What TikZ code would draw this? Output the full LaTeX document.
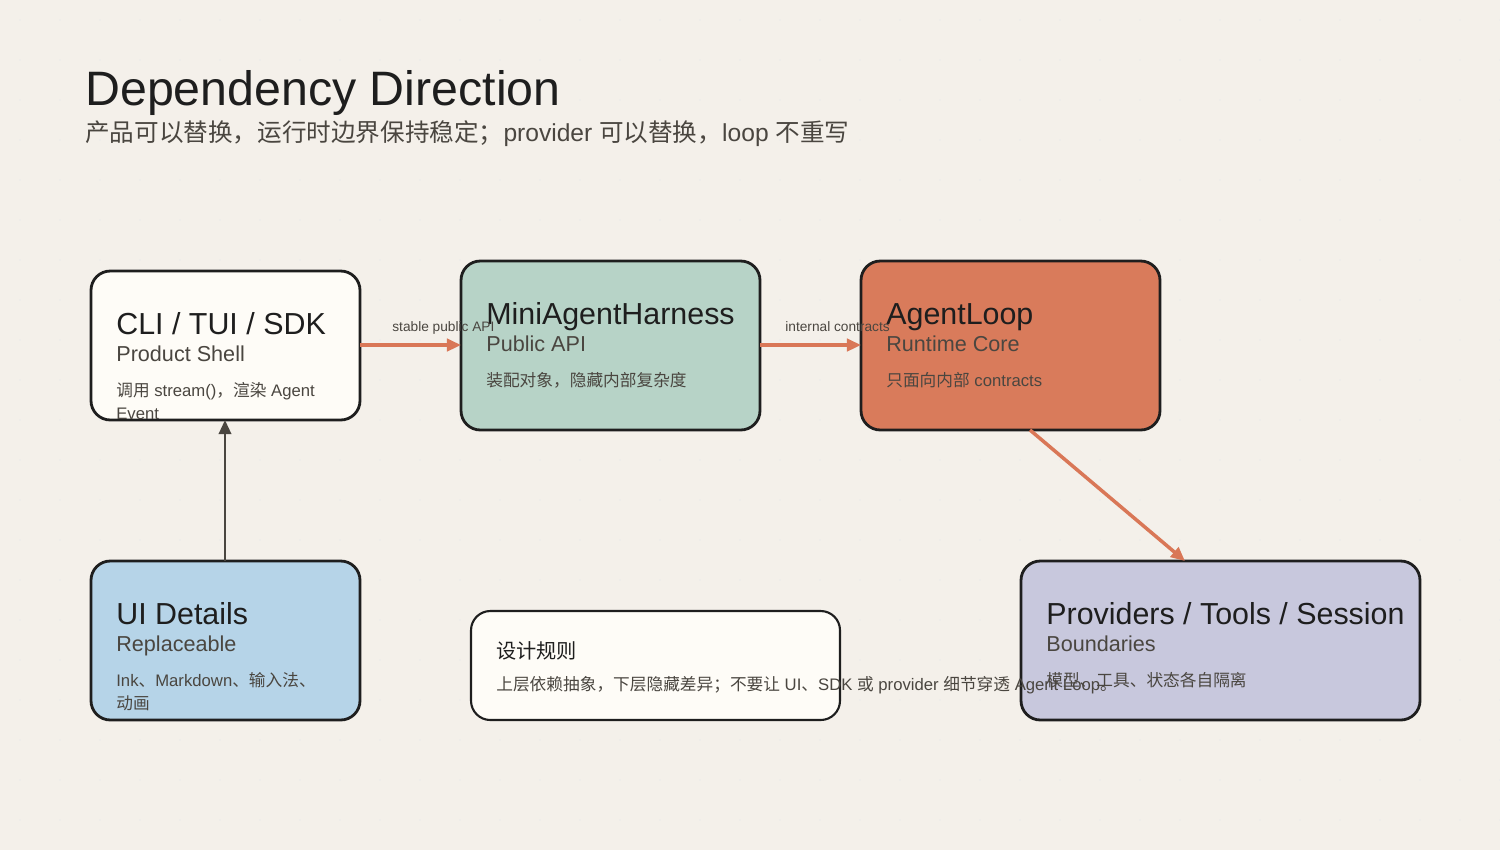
\documentclass[tikz,border=0pt]{standalone}
\usepackage{fontspec}
\setmainfont{Liberation Sans}
\newfontfamily\cjk{Noto Sans CJK SC}
\usetikzlibrary{arrows.meta}
\definecolor{bg}{HTML}{F4F0EA}
\definecolor{wbox}{HTML}{FEFCF7}
\definecolor{gbox}{HTML}{B7D3C7}
\definecolor{obox}{HTML}{D97B5B}
\definecolor{bbox}{HTML}{B6D4E8}
\definecolor{lbox}{HTML}{C8C8DD}
\definecolor{ink}{HTML}{1E1E1E}
\definecolor{sub}{HTML}{4A4640}
\definecolor{arr}{HTML}{D97757}
\newcommand{\cj}[1]{{\cjk #1}}
\tikzset{
 box/.style={draw=ink,line width=1.6pt,rounded corners=11pt},
 ttl/.style={anchor=base west,inner sep=0,font=\fontsize{17.3}{20}\selectfont,text=ink},
 stl/.style={anchor=base west,inner sep=0,font=\fontsize{12.3}{14}\selectfont,text=sub},
 sml/.style={anchor=base west,inner sep=0,font=\fontsize{9.5}{13}\selectfont,text=sub},
 elab/.style={anchor=base west,inner sep=0,font=\fontsize{7.8}{9}\selectfont,text=sub},
 oarr/.style={draw=arr,line width=2pt,-{Triangle[length=8pt,width=7pt]}},
 garr/.style={draw=sub,line width=1.5pt,-{Triangle[length=8pt,width=7pt]}},
}
\begin{document}
\begin{tikzpicture}[x=0.02cm,y=-0.02cm]
\fill[bg] (0,0) rectangle (1500,850);
\useasboundingbox (0,0) rectangle (1500,850);
\foreach \i in {0,...,37}{\foreach \j in {0,...,21}{
 \fill[black!8] (20+40*\i,20+40*\j) circle (0.5pt);}}
\node[anchor=base west,inner sep=0,font=\fontsize{27.5}{30}\selectfont,text=ink] (title) at (85,105) {Dependency Direction};
\node[anchor=base west,inner sep=0,font=\fontsize{14}{16}\selectfont,text=sub] (subt) at (85,141) {\cj{产品可以替换，运行时边界保持稳定；}provider \cj{可以替换，}loop \cj{不重写}};
% boxes
\draw[box,fill=wbox] (91,271) rectangle (360,420);
\draw[box,fill=gbox] (461,261) rectangle (760,430);
\draw[box,fill=obox] (861,261) rectangle (1160,430);
\draw[box,fill=bbox] (91,561) rectangle (360,720);
\draw[box,fill=wbox,line width=1.2pt] (471,611) rectangle (840,720);
\draw[box,fill=lbox] (1021,561) rectangle (1420,720);
\coordinate (cliR) at (360,345); \coordinate (harL) at (461,345);
\coordinate (harR) at (760,345); \coordinate (loopL) at (861,345);
\coordinate (loopB) at (1030,430); \coordinate (provT) at (1185,561);
\coordinate (uiT) at (225,561); \coordinate (cliB) at (225,420);
% texts
\node[ttl] (t1) at (116,334) {CLI / TUI / SDK};
\node[stl] (s1) at (116,361) {Product Shell};
\node[sml] (m1) at (116,396) {\cj{调用} stream()\cj{，渲染} Agent};
\node[sml] (m1b) at (116,419) {Event};
\node[ttl] (t2) at (486,324) {MiniAgentHarness};
\node[stl] (s2) at (486,351) {Public API};
\node[sml] (m2) at (486,386) {\cj{装配对象，隐藏内部复杂度}};
\node[ttl] (t3) at (886,324) {AgentLoop};
\node[stl] (s3) at (886,351) {Runtime Core};
\node[sml] (m3) at (886,386) {\cj{只面向内部} contracts};
\node[ttl] (t4) at (116,624) {UI Details};
\node[stl] (s4) at (116,651) {Replaceable};
\node[sml] (m4) at (116,686) {Ink\cj{、}Markdown\cj{、输入法、}};
\node[sml] (m4b) at (116,709) {\cj{动画}};
\node[anchor=base west,inner sep=0,font=\fontsize{11.5}{13}\selectfont,text=ink] (t5) at (496,658) {\cj{设计规则}};
\node[sml] (m5) at (496,690) {\cj{上层依赖抽象，下层隐藏差异；不要让} UI\cj{、}SDK \cj{或} provider \cj{细节穿透} Agent Loop\cj{。}};
\node[ttl] (t6) at (1046,624) {Providers / Tools / Session};
\node[stl] (s6) at (1046,651) {Boundaries};
\node[sml] (m6) at (1046,686) {\cj{模型、工具、状态各自隔离}};
% connectors
\draw[oarr] (cliR) -- (harL);
\draw[oarr] (harR) -- (loopL);
\draw[oarr] (loopB) -- (provT);
\draw[garr] (uiT) -- (cliB);
\node[elab] (e1) at (392,331) {stable public API};
\node[elab] (e2) at (785,331) {internal contracts};
\end{tikzpicture}
\end{document}
